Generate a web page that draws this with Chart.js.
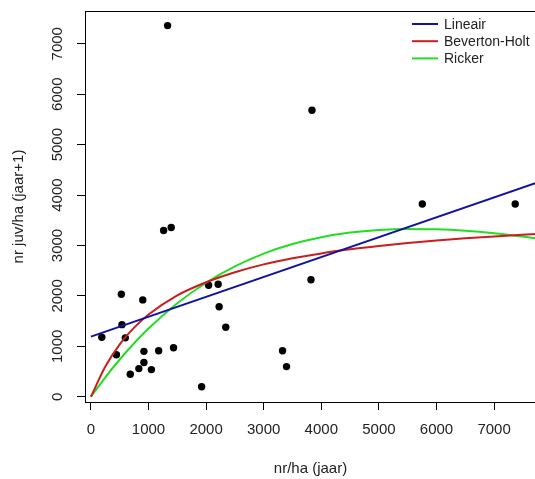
<!DOCTYPE html>
<html>
<head>
<meta charset="utf-8">
<script src="https://cdn.jsdelivr.net/npm/chart.js@4"></script>
<style>
    html, body { margin: 0; padding: 0; background: #fff; overflow: hidden; }
    #wrap { width: 540px; height: 479px; }
</style>
</head>
<body>
<div id="wrap"><canvas id="chartSR"></canvas></div>
<script>
// Waarnemingen: nr/ha (jaar) tegen nr juv/ha (jaar+1)
var obsX = [189, 442, 528, 539, 597, 683, 832, 900, 920, 920, 1050, 1176, 1262, 1394, 1434, 1331,
            1922, 2043, 2209, 2226, 2341, 3838, 3821, 3327, 3396, 5754, 7367];
var obsY = [1180, 834, 2033, 1430, 1168, 446, 558, 1921, 900, 680, 539, 912, 3298, 3357, 971, 7360,
            197, 2210, 2230, 1784, 1377, 5683, 2321, 912, 598, 3823, 3823];

// Gefitte curves
var fitX = [0, 250, 500, 750, 1000, 1500, 2000, 2500, 3000, 3500, 4000, 4500, 5000, 5500, 6000, 6500, 7000, 7728];
var bevertonY = [0, 600, 1040, 1370, 1630, 2010, 2270, 2470, 2625, 2745, 2843, 2923, 2990, 3048, 3098, 3141, 3180, 3227];
var rickerY = [0, 386, 739, 1060, 1352, 1855, 2261, 2585, 2838, 3028, 3164, 3256, 3309, 3329, 3321, 3291, 3241, 3142];
var linX = [0, 7728];
var linY = [1193, 4238];

var xTicks = [0, 1000, 2000, 3000, 4000, 5000, 6000, 7000];
var yTicks = [0, 1000, 2000, 3000, 4000, 5000, 6000, 7000];

function pairs(xs, ys) {
    return xs.map(function(x, i) { return { x: x, y: ys[i] }; });
}

var FONT = "'Liberation Sans', Arial, sans-serif";

// Kader rond het plotgebied
var boxPlugin = {
    id: 'box',
    afterDraw: function(chart) {
        var a = chart.chartArea, ctx = chart.ctx;
        ctx.save();
        ctx.strokeStyle = '#000';
        ctx.lineWidth = 1;
        ctx.strokeRect(Math.round(a.left) + 0.5, Math.round(a.top) + 0.5,
                       Math.round(a.right - a.left), Math.round(a.bottom - a.top));
        ctx.restore();
    }
};

// Legenda zonder kader, rechtsboven in het plotgebied
var legendPlugin = {
    id: 'rLegend',
    afterDraw: function(chart) {
        var ctx = chart.ctx;
        ctx.save();
        ctx.font = '14px ' + FONT;
        ctx.textBaseline = 'middle';
        ctx.textAlign = 'left';
        [0, 1, 2].forEach(function(i, k) {
            var ds = chart.data.datasets[i];
            var y = 24 + k * 17.2;
            ctx.strokeStyle = ds.borderColor;
            ctx.lineWidth = 2;
            ctx.beginPath();
            ctx.moveTo(412, y);
            ctx.lineTo(438, y);
            ctx.stroke();
            ctx.fillStyle = '#222';
            ctx.fillText(ds.label, 444, y + 1);
        });
        ctx.restore();
    }
};

document.addEventListener('DOMContentLoaded', function() {
    var lineStyle = { showLine: true, pointRadius: 0, borderWidth: 2, cubicInterpolationMode: 'monotone', fill: false };
    var plain = function(v) { return String(v); };

    var data = {
        datasets: [
            Object.assign({ label: 'Lineair', data: pairs(linX, linY), borderColor: '#1212a0' }, lineStyle),
            Object.assign({ label: 'Beverton-Holt', data: pairs(fitX, bevertonY), borderColor: '#c81e1e' }, lineStyle),
            Object.assign({ label: 'Ricker', data: pairs(fitX, rickerY), borderColor: '#22dd22' }, lineStyle),
            {
                label: 'data',
                data: pairs(obsX, obsY),
                pointRadius: 3.7,
                pointBackgroundColor: '#000',
                pointBorderWidth: 0,
                showLine: false
            }
        ]
    };

    var options = {
        responsive: true,
        maintainAspectRatio: false,
        animation: false,
        layout: { padding: { top: 7, left: 0, right: 0, bottom: 0 } },
        plugins: { legend: { display: false }, tooltip: { enabled: false } },
        scales: {
            x: {
                type: 'linear',
                min: -103,
                max: 7728,
                afterBuildTicks: function(s) { s.ticks = xTicks.map(function(v) { return { value: v }; }); },
                afterFit: function(s) { s.height = 77; },
                grid: { drawOnChartArea: false, drawTicks: true, tickLength: 8, color: '#000', tickColor: '#000' },
                border: { display: false },
                ticks: { autoSkip: false, maxRotation: 0, padding: 11, color: '#222', callback: plain, font: { family: FONT, size: 15 } },
                title: { display: true, text: 'nr/ha (jaar)', color: '#222', font: { family: FONT, size: 15 }, padding: { top: 0, bottom: 1 } }
            },
            y: {
                type: 'linear',
                min: -104,
                max: 7650,
                afterBuildTicks: function(s) { s.ticks = yTicks.map(function(v) { return { value: v }; }); },
                afterFit: function(s) { s.width = 85; },
                grid: { drawOnChartArea: false, drawTicks: true, tickLength: 8, color: '#000', tickColor: '#000' },
                border: { display: false },
                ticks: { autoSkip: false, minRotation: 90, maxRotation: 90, crossAlign: 'center', padding: 2, color: '#222', callback: plain, font: { family: FONT, size: 15 } },
                title: { display: true, text: 'nr juv/ha (jaar+1)', color: '#222', font: { family: FONT, size: 15 }, padding: { top: 10, bottom: 0 } }
            }
        }
    };

    var ctx = document.getElementById('chartSR').getContext('2d');
    new Chart(ctx, {
        type: 'scatter',
        data: data,
        options: options,
        plugins: [boxPlugin, legendPlugin]
    });
});
</script>
</body>
</html>
